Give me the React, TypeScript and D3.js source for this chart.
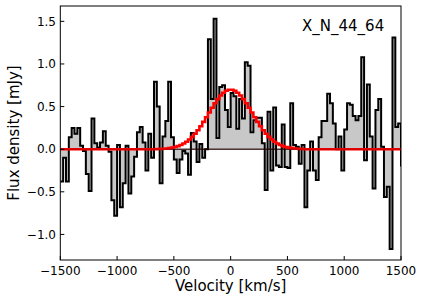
import React from "react";
import * as d3 from "d3";

// channel grid (km/s)
const binStart = -1500;
const binWidth = 25;

// observed spectrum, mJy per channel
const flux = [
  -0.38, -0.10, -0.38, 0.14, 0.25, 0.18, 0.25, 0.04, -0.02, -0.29,
  -0.49, 0.36, 0.07, 0.02, 0.08, 0.21, 0.04, -0.03, -0.60, -0.78,
  0.05, -0.68, -0.40, 0.04, -0.52, -0.32, -0.09, 0.20, 0.26, 0.08,
  -0.25, 0.18, -0.10, 0.79, 0.50, -0.40, 0.15, 0.33, 0.79, 0.14,
  -0.12, -0.28, -0.12, -0.02, -0.05, -0.30, 0.19, 0.09, -0.15, 0.06,
  -0.10, 0.00, 1.29, 0.59, 1.53, 0.13, 0.73, 0.75, 0.46, 0.26,
  0.66, 0.62, 0.24, 0.59, 0.36, 1.02, 0.98, 0.20, 0.34, 0.37,
  0.37, 0.07, -0.48, 0.44, -0.25, 0.49, -0.19, -0.21, 0.29, -0.21,
  -0.22, 0.54, 0.05, 0.03, -0.17, 0.05, -0.68, -0.25, 0.09, -0.25,
  -0.36, 0.14, 0.33, 0.33, 0.65, 0.54, 0.30, 0.00, 0.15, -0.25,
  0.23, 0.54, 0.52, 0.39, 0.34, 0.39, 1.08, -0.13, 0.76, 0.15,
  -0.46, 0.46, 0.59, 0.03, -0.56, -0.44, -1.17, 1.31, 0.26, 0.30,
  -0.19,
];

// gaussian fit, sampled on the same channels
const model = [
  0, 0, 0, 0, 0, 0, 0, 0, 0, 0,
  0, 0, 0, 0, 0, 0, 0, 0, 0, 0,
  0, 0, 0, 0, 0, 0, 0, 0, 0, 0,
  0, 0, 0, 0, 0.003, 0.004, 0.006, 0.009, 0.013, 0.018,
  0.026, 0.036, 0.049, 0.066, 0.087, 0.113, 0.145, 0.181, 0.223, 0.27,
  0.321, 0.375, 0.43, 0.486, 0.539, 0.587, 0.63, 0.663, 0.686, 0.698,
  0.698, 0.686, 0.663, 0.63, 0.587, 0.539, 0.486, 0.43, 0.375, 0.321,
  0.27, 0.223, 0.181, 0.145, 0.113, 0.087, 0.066, 0.049, 0.036, 0.026,
  0.018, 0.013, 0.009, 0.006, 0.004, 0.003, 0, 0, 0, 0,
  0, 0, 0, 0, 0, 0, 0, 0, 0, 0,
  0, 0, 0, 0, 0, 0, 0, 0, 0, 0,
  0, 0, 0, 0, 0, 0, 0, 0, 0, 0,
  0,
];

const xTicks = [-1500, -1000, -500, 0, 500, 1000, 1500];
const yTicks = [-1.0, -0.5, 0.0, 0.5, 1.0, 1.5];
const sourceName = "X_N_44_64";

const W = 425;
const H = 302;
const L = 60.3, R = 401, T = 6, B = 260;
const font = "DejaVu Sans, sans-serif";

function steps(vals: number[]): [number, number][] {
  return vals.flatMap((v, i) => [
    [binStart + i * binWidth, v] as [number, number],
    [binStart + (i + 1) * binWidth, v] as [number, number],
  ]);
}

export default function App() {
  const x = d3.scaleLinear().domain([-1500, 1500]).range([L, R]);
  const y = d3.scaleLinear().domain([-1.3, 1.68]).range([B, T]);

  const line = d3
    .line<[number, number]>()
    .x((d) => x(d[0]))
    .y((d) => y(d[1]));
  const area = d3
    .area<[number, number]>()
    .x((d) => x(d[0]))
    .y0(y(0))
    .y1((d) => y(d[1]));

  const obs = steps(flux);
  const fit = steps(model);
  const fx = d3.format("d");
  const fy = d3.format(".1f");

  return (
    <svg
      width={W}
      height={H}
      style={{ position: "absolute", left: 0, top: 0, background: "#fff" }}
    >
      <defs>
        <clipPath id="plot">
          <rect x={L} y={T} width={R - L} height={B - T} />
        </clipPath>
      </defs>
      <g clipPath="url(#plot)">
        <path d={area(obs) || ""} fill="#c8c8c8" stroke="none" />
        <line x1={L} x2={R} y1={y(0)} y2={y(0)} stroke="#000" strokeWidth={1} />
        <path d={line(obs) || ""} fill="none" stroke="#000" strokeWidth={2} />
        <path d={line(fit) || ""} fill="none" stroke="#f00" strokeWidth={2.6} />
        <line x1={L} x2={R} y1={y(0)} y2={y(0)} stroke="#600" strokeWidth={0.7} opacity={0.6} />
      </g>
      <rect x={L} y={T} width={R - L} height={B - T} fill="none" stroke="#000" strokeWidth={1} />

      {xTicks.map((t) => (
        <g key={"x" + t}>
          <line x1={x(t)} x2={x(t)} y1={B} y2={B - 4} stroke="#000" strokeWidth={1} />
          <text x={x(t)} y={275} textAnchor="middle" fontFamily={font} fontSize={12}>
            {fx(t)}
          </text>
        </g>
      ))}
      {yTicks.map((t) => (
        <g key={"y" + t}>
          <line x1={L} x2={L + 4} y1={y(t)} y2={y(t)} stroke="#000" strokeWidth={1} />
          <text x={56} y={y(t) + 4.3} textAnchor="end" fontFamily={font} fontSize={12}>
            {fy(t)}
          </text>
        </g>
      ))}

      <text x={(L + R) / 2} y={291} textAnchor="middle" fontFamily={font} fontSize={15}>
        Velocity [km/s]
      </text>
      <text
        transform={`translate(19, ${(T + B) / 2}) rotate(-90)`}
        textAnchor="middle"
        fontFamily={font}
        fontSize={15}
      >
        Flux density [mJy]
      </text>
      <text x={302} y={31} fontFamily={font} fontSize={15}>
        {sourceName}
      </text>
    </svg>
  );
}
